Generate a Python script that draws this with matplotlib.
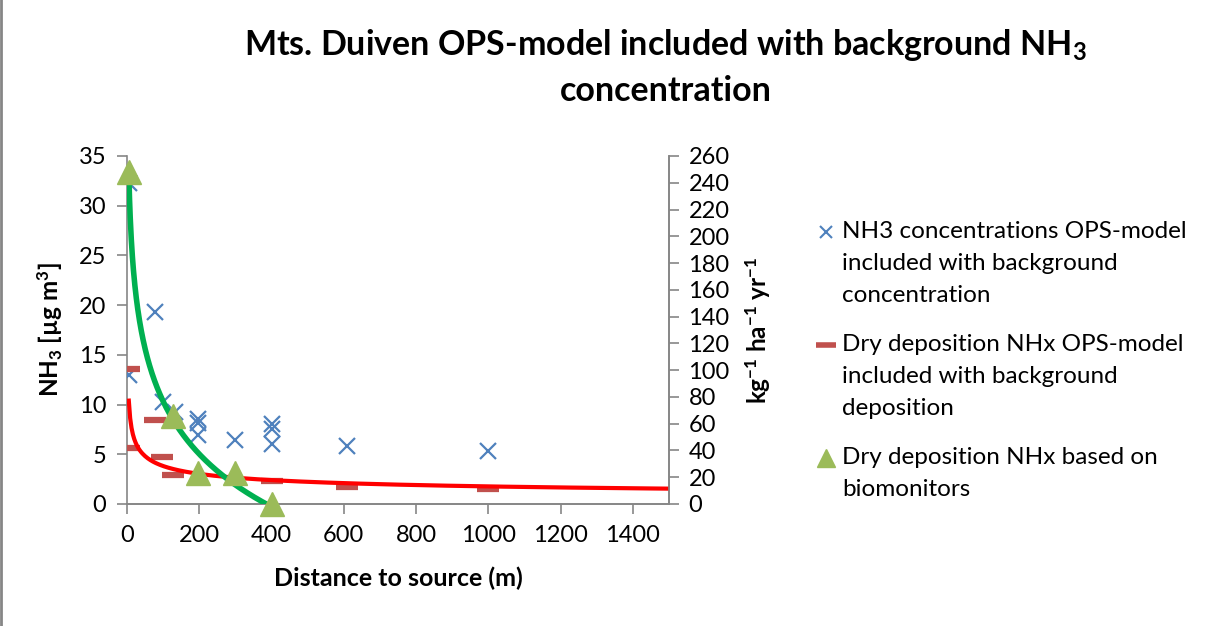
import matplotlib
matplotlib.use("Agg")
import matplotlib.pyplot as plt
import numpy as np

plt.rcParams["font.family"] = ["Lato", "DejaVu Sans"]
plt.rcParams["mathtext.fontset"] = "custom"
plt.rcParams["mathtext.rm"] = "Lato"
plt.rcParams["mathtext.bf"] = "Lato:bold"
plt.rcParams["mathtext.default"] = "bf"

# NH3 concentrations (left axis, ug/m3)
nh3_x = [5, 5, 78, 100, 133, 197, 197, 197, 300, 400, 400, 400, 610, 1000]
nh3_y = [32.3, 13.0, 19.3, 10.3, 9.3, 8.5, 8.1, 6.9, 6.4, 8.0, 7.5, 6.0, 5.8, 5.3]

# dry deposition OPS-model (right axis, kg/ha/yr)
dep_x = [5, 5, 78, 97, 128, 400, 610, 1000]
dep_y = [101, 42, 63, 35, 22, 17, 13, 11]

# dry deposition from biomonitors (right axis)
bio_x = [5, 128, 197, 300, 400]
bio_y = [248, 66, 23, 23, 0]

x_ticks = [0, 200, 400, 600, 800, 1000, 1200, 1400]
left_ticks = list(range(0, 36, 5))
right_ticks = list(range(0, 261, 20))

labels = [
    "NH3 concentrations OPS-model\nincluded with background\nconcentration",
    "Dry deposition NHx OPS-model\nincluded with background\ndeposition",
    "Dry deposition NHx based on\nbiomonitors",
]

grey = "#868686"
fig = plt.figure(figsize=(12.08, 6.26), dpi=100)
ax = fig.add_axes([127 / 1208, 1 - 504 / 626, 542 / 1208, 348 / 626])
ax2 = ax.twinx()

ax.plot(nh3_x, nh3_y, ls="none", marker="x", ms=11.5, mew=1.6,
        color="#4F81BD", zorder=3)

# Excel-style trendlines fitted to the points
p = np.polyfit(np.log(dep_x), np.log(dep_y), 1)
tx = np.linspace(min(dep_x), 1500, 400)
ax2.plot(tx, np.exp(p[1]) * tx ** p[0], color="#FF0000", lw=3, zorder=2)

q = np.polyfit(np.log(bio_x), bio_y, 1)
gx = np.linspace(min(bio_x), max(bio_x), 400)
ax2.plot(gx, q[0] * np.log(gx) + q[1], color="#00B050", lw=4, zorder=3)

ax2.plot(dep_x, dep_y, ls="none", marker="_", ms=16, mew=4.5,
         color="#C0504D", zorder=1)
ax2.plot(bio_x, bio_y, ls="none", marker="^", ms=17,
         color="#9BBB59", zorder=4, clip_on=False)

ax.set_xlim(0, 1500)
ax.set_ylim(0, 35)
ax2.set_ylim(0, 260)
ax.set_xticks(x_ticks)
ax.set_yticks(left_ticks)
ax2.set_yticks(right_ticks)

for a in (ax, ax2):
    a.spines["top"].set_visible(False)
    for s in ("left", "right", "bottom"):
        a.spines[s].set_color(grey)
        a.spines[s].set_linewidth(1.2)
    a.tick_params(direction="out", length=7, width=1.2, color=grey, labelsize=17)
ax.tick_params(axis="y", pad=8)
ax.tick_params(axis="x", pad=8)
ax2.tick_params(axis="y", pad=7)
ax2.spines["left"].set_visible(False)

ax.set_xlabel("Distance to source (m)", fontsize=18, fontweight="bold", labelpad=15)
ax.set_ylabel("NH$_3$ [µg m$^3$]", fontsize=17.5, fontweight="bold", labelpad=10)
ax2.set_ylabel("kg$^{-1}$ ha$^{-1}$ yr$^{-1}$", fontsize=17.5, fontweight="bold", labelpad=10)

fig.text(0.551, 0.957, "Mts. Duiven OPS-model included with background NH$_3$\nconcentration",
         ha="center", va="top", fontsize=24.5, fontweight="bold", linespacing=1.45)

# legend drawn by hand so the marker sits beside the first line of each entry
leg_markers = [
    dict(marker="x", ms=9, mew=1.5, color="#4F81BD"),
    dict(marker="_", ms=14, mew=4, color="#C0504D"),
    dict(marker="^", ms=13, color="#9BBB59"),
]
tops = [232, 345, 458]
for lab, mk, yt in zip(labels, leg_markers, tops):
    fig.add_artist(plt.Line2D([826 / 1208], [1 - yt / 626], ls="none", **mk))
    fig.text(842 / 1208, 1 - (yt - 11) / 626, lab, ha="left", va="top",
             fontsize=17.5, linespacing=1.66)

fig.add_artist(plt.Line2D([0.001, 0.001], [0, 1], color=grey, lw=2))
fig.savefig("out.png", dpi=100)
